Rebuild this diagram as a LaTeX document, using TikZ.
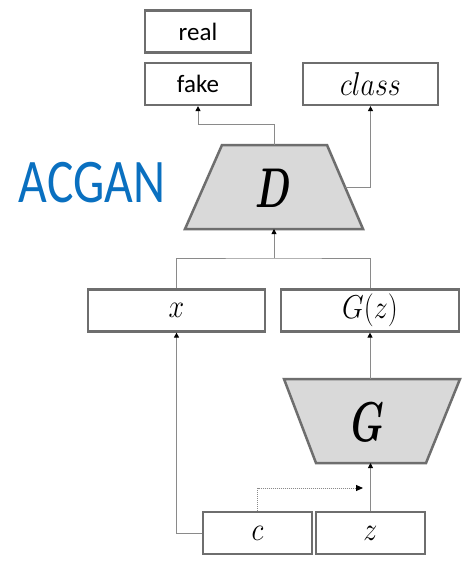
\RequirePackage{fix-cm}
\documentclass[tikz,border=0pt]{standalone}
\usepackage{fontspec}
\newfontfamily\calibrifont{Carlito}
\usetikzlibrary{arrows.meta}
\definecolor{acblue}{HTML}{0A70C0}
\definecolor{boxgray}{HTML}{6E6E6E}
\definecolor{linegray}{HTML}{8A8A8A}
\definecolor{trapfill}{HTML}{D9D9D9}
\newcommand\mysmath[1]{\scalebox{0.85}[1]{\fontsize{33}{36}\selectfont$#1$}}
\newcommand\mybmath[1]{\scalebox{0.66}[1]{\fontsize{56}{60}\selectfont\boldmath$#1$}}
\begin{document}
\begin{tikzpicture}[x=1pt,y=-1pt,
  box/.style={draw=boxgray, line width=2.2pt, fill=white, inner sep=0pt, minimum height=42pt},
  trapshape/.style={draw=boxgray, line width=2.5pt, fill=trapfill, line join=miter},
  traplbl/.style={inner sep=0pt},
  sanslbl/.style={font=\calibrifont\fontsize{25}{30}\selectfont},
  conn/.style={draw=linegray, line width=0.9pt},
  arrowend/.style={-{Triangle[length=5pt,width=5pt,color=black]}},
  dotconn/.style={draw=linegray, line width=1pt, densely dotted, -{Triangle[length=7pt,width=6pt,color=black]}}
]
\useasboundingbox[fill=white] (0,0) rectangle (472,565);

% boxes
\node[box, minimum width=106pt, sanslbl] (real) at (198,31.5) {real};
\node[box, minimum width=106pt, sanslbl] (fake) at (198,84) {fake};
\node[box, minimum width=135pt] (class) at (370.5,84) {\mysmath{class}};
\node[box, minimum width=177pt] (xbox) at (176.5,310.5) {\mysmath{x}};
\node[box, minimum width=178pt] (Gz) at (370,310.5) {\mysmath{G(z)}};
\node[box, minimum width=109pt] (cbox) at (257.5,533) {\mysmath{c}};
\node[box, minimum width=109pt] (zbox) at (370.5,533) {\mysmath{z}};

% discriminator D
\draw[trapshape] (185,229) -- (363,229) -- (327,145) -- (222,145) -- cycle;
\coordinate (Dtop) at (274.5,145);
\coordinate (Dbot) at (274,229);
\coordinate (Dright) at (345,187);
\node[traplbl] (D) at (273,188) {\mybmath{D}};

% generator G
\draw[trapshape] (284,379) -- (460,379) -- (426,463) -- (316,463) -- cycle;
\coordinate (Gtop) at (370,379);
\coordinate (Gbot) at (370.5,463);
\node[traplbl] (G) at (368,422) {\mybmath{G}};

% title
\node[text=acblue, font=\calibrifont\fontsize{62}{64}\selectfont, inner sep=0pt] (title) at (92,183) {\scalebox{0.8}[1]{ACGAN}};

% connectors
\draw[conn, arrowend] (Dtop) -- ++(0,-21) -| (fake.south);
\draw[conn, arrowend] (Dright) -| (class.south);
\path (Dbot) ++(0,29) coordinate (join);
\draw[conn] (xbox.north) |- (join) -| (Gz.north);
\draw[conn, arrowend] (join) -- (Dbot);
\draw[conn, arrowend] (Gtop) -- (Gtop |- Gz.south);
\draw[conn, arrowend] (zbox.north) -- (zbox.north |- Gbot);
\draw[conn, arrowend] (cbox.west) -| (xbox.south);
\coordinate (dotend) at (363,488);
\draw[dotconn] (cbox.north) |- (dotend);
\end{tikzpicture}
\end{document}
